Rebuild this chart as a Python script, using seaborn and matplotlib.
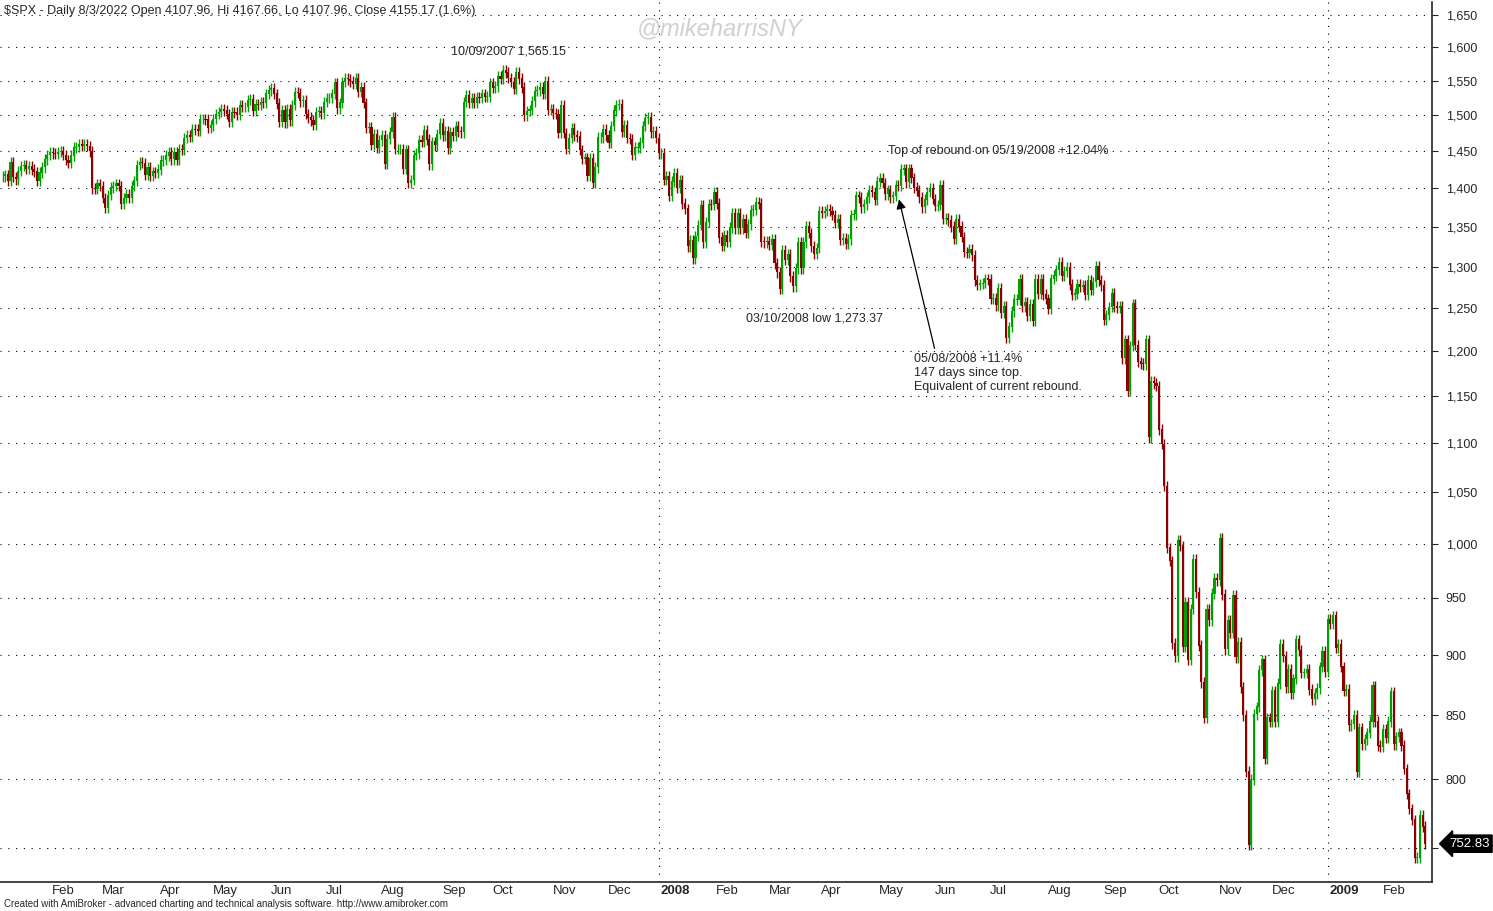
import numpy as np
import matplotlib
matplotlib.use("Agg")
import matplotlib.pyplot as plt
import seaborn as sns
from matplotlib.ticker import FixedLocator, NullLocator

# ---- data: approximate daily closes, one list per month ----
m2007 = [
 [1416,1418,1410,1435,1415,1412,1423,1430,1431,1426,1430,1425,1422,1410,1421,1428,1439,1445],
 [1448,1447,1446,1449,1450,1445,1438,1434,1444,1455,1456,1459,1457,1459,1457,1450,1400,1399,1406],
 [1403,1387,1374,1391,1401,1403,1406,1403,1380,1387,1392,1387,1403,1410,1431,1435,1434,1418,1428,1417,1422,1421],
 [1425,1437,1438,1444,1448,1439,1448,1438,1453,1452,1468,1472,1470,1481,1480,1478,1495,1495,1494,1482],
 [1486,1495,1502,1505,1509,1507,1502,1491,1505,1504,1501,1514,1512,1512,1522,1523,1507,1516,1515,1519,1518,1531],
 [1536,1539,1531,1517,1491,1507,1490,1509,1493,1515,1533,1532,1520,1522,1502,1497,1493,1487,1505,1506,1503],
 [1519,1525,1525,1531,1547,1510,1518,1548,1553,1552,1549,1546,1553,1534,1541,1518,1482,1483,1459,1474,1455],
 [1465,1472,1433,1467,1476,1497,1453,1453,1453,1426,1452,1407,1411,1445,1447,1465,1463,1479,1466,1432,1463,1458,1474],
 [1489,1472,1478,1454,1476,1471,1484,1477,1476,1519,1529,1518,1525,1518,1526,1525,1531,1527,1527],
 [1547,1540,1542,1557,1553,1565,1562,1554,1548,1538,1562,1553,1540,1500,1506,1508,1520,1535,1536,1541,1531,1549,1508],
 [1509,1503,1502,1475,1515,1475,1453,1468,1482,1472,1470,1452,1440,1441,1417,1440,1407,1428,1469,1469,1481],
 [1472,1462,1485,1507,1515,1516,1477,1486,1468,1467,1445,1455,1455,1462,1485,1496,1497,1476,1478,1468],
]
m2008 = [
 [1447,1447,1411,1416,1390,1409,1420,1401,1411,1380,1373,1325,1333,1310,1338,1352,1378,1330,1356,1379,1378],
 [1395,1380,1336,1326,1339,1331,1349,1367,1348,1367,1348,1360,1342,1353,1371,1372,1381,1380,1331,1330],
 [1331,1327,1334,1304,1293,1273,1320,1308,1315,1288,1276,1298,1330,1298,1330,1350,1342,1325,1316,1323],
 [1370,1368,1370,1372,1370,1365,1355,1360,1333,1335,1328,1334,1365,1366,1390,1388,1375,1379,1388,1397,1395,1385],
 [1409,1413,1407,1392,1398,1388,1390,1404,1403,1425,1426,1408,1426,1414,1401,1397,1388,1375,1385,1395,1400],
 [1386,1377,1378,1404,1360,1361,1358,1350,1335,1360,1350,1337,1318,1317,1321,1314,1283,1278,1279,1280,1285],
 [1284,1261,1262,1253,1273,1244,1252,1215,1228,1246,1260,1260,1284,1252,1257,1241,1254,1235,1284,1267,1284,1266],
 [1261,1249,1285,1289,1296,1305,1289,1294,1299,1278,1266,1267,1278,1275,1277,1266,1283,1272,1281,1300,1283],
 [1277,1236,1242,1251,1267,1252,1250,1252,1192,1213,1156,1206,1255,1207,1188,1186,1185,1213,1106,1166,1164],
 [1161,1114,1099,1056,996,984,910,899,1003,998,907,946,896,940,985,955,908,877,848,940,930,954,968],
 [966,1005,953,905,930,919,952,898,911,873,850,806,752,800,851,857,887,896,816,848],
 [845,870,845,876,909,899,873,888,868,880,913,904,885,885,888,871,863,868,872,890,903,886],
]
m2009 = [
 [931,927,934,906,909,890,870,871,842,843,850,806,840,827,831,836,845,874,845,826],
 [825,839,832,845,869,827,833,836,826,808,789,778,770,743,743,773,765,752.83],
]
month_names = ["Jan","Feb","Mar","Apr","May","Jun","Jul","Aug","Sep","Oct","Nov","Dec"]
y_ticks = [750,800,850,900,950,1000,1050,1100,1150,1200,1250,1300,1350,1400,1450,1500,1550,1600,1650]

months = m2007 + m2008 + m2009
closes = np.array([c for m in months for c in m], dtype=float)
opens = np.concatenate([[closes[0]], closes[:-1]])
n = len(closes)
x = np.arange(n)
hi = np.maximum(opens, closes) * 1.005
lo = np.minimum(opens, closes) * 0.995

sns.set_style("white")
plt.rcParams['font.family'] = ['Liberation Sans', 'DejaVu Sans']

fig = plt.figure(figsize=(14.93, 9.11), dpi=100)
ax = fig.add_axes([0.0, 0.0318, 0.959, 0.966])
up = closes >= opens
GREEN, RED = "#00a000", "#8b0000"
cols = np.where(up, GREEN, RED)
ax.vlines(x, lo, hi, colors=cols, linewidth=1.0, zorder=3)
ax.bar(x, np.abs(closes - opens) + 0.5, bottom=np.minimum(opens, closes), width=0.8,
       color=cols, linewidth=0, zorder=3)

ax.set_yscale("log")
ax.set_ylim(726, 1670)
ax.set_xlim(-1, n + 1.5)
ax.yaxis.set_major_locator(FixedLocator(y_ticks))
ax.yaxis.set_minor_locator(NullLocator())
# the 750 label sits under the last-price marker in the reference
ax.set_yticklabels(["" if v == 750 else f"{v:,}" for v in y_ticks])
ax.yaxis.tick_right()
ax.tick_params(axis="y", direction="out", length=4, labelsize=9, pad=6)
for v in y_ticks:
    ax.axhline(v, color="black", linestyle=(0, (1, 6)), linewidth=0.8, zorder=1)

# month ticks
starts, labels, bold = [], [], []
pos = 0
for i, m in enumerate(months):
    starts.append(pos)
    mi = i % 12
    if mi == 0:
        labels.append(str(2007 + i // 12)); bold.append(True)
    else:
        labels.append(month_names[mi]); bold.append(False)
    pos += len(m)
ax.set_xticks(starts[1:])
ax.set_xticklabels([])
ax.tick_params(axis="x", direction="out", length=5)
for s, lab, b in zip(starts, labels, bold):
    if s == 0:
        continue
    ax.text(s + 0.8, -0.003, lab, transform=ax.get_xaxis_transform(), ha="left", va="top",
            fontsize=9.5, fontweight="bold" if b else "normal")
    if b:
        ax.axvline(s, color="black", linestyle=(0, (1, 6)), linewidth=0.8, zorder=1)

for sp in ["top", "left"]:
    ax.spines[sp].set_visible(False)
for sp in ["right", "bottom"]:
    ax.spines[sp].set_linewidth(1.2)

ax.text(0.003, 0.997, "$SPX - Daily 8/3/2022 Open 4107.96, Hi 4167.66, Lo 4107.96, Close 4155.17 (1.6%)",
        transform=ax.transAxes, ha="left", va="top", fontsize=9)
ax.text(272, 1628, "@mikeharrisNY", ha="center", va="center", fontsize=17, style="italic",
        color="#d0d0d0")
ax.text(192, 1594, "10/09/2007 1,565.15", ha="center", va="center", fontsize=9)
ax.text(336, 1450, "Top of rebound on 05/19/2008 +12.04%", ha="left", va="center", fontsize=9)
ax.text(282, 1238, "03/10/2008 low 1,273.37", ha="left", va="center", fontsize=9)
ax.text(346, 1198, "05/08/2008 +11.4%\n147 days since top.\nEquivalent of current rebound.",
        ha="left", va="top", fontsize=9, linespacing=1.25)
ax.annotate("", xy=(340, 1389), xytext=(354, 1200),
            arrowprops=dict(arrowstyle="-|>", color="black", lw=0.9, mutation_scale=14))
ax.annotate("752.83", xy=(1.0, 752.83), xycoords=("axes fraction", "data"),
            xytext=(1.012, 752.83), textcoords=("axes fraction", "data"),
            ha="left", va="center", fontsize=9.5, color="white",
            bbox=dict(boxstyle="larrow,pad=0.2", fc="black", ec="black"))

fig.text(0.003, 0.002, "Created with AmiBroker - advanced charting and technical analysis software. http://www.amibroker.com",
         fontsize=7, ha="left", va="bottom")
fig.savefig("out.png", dpi=100, facecolor="white")
